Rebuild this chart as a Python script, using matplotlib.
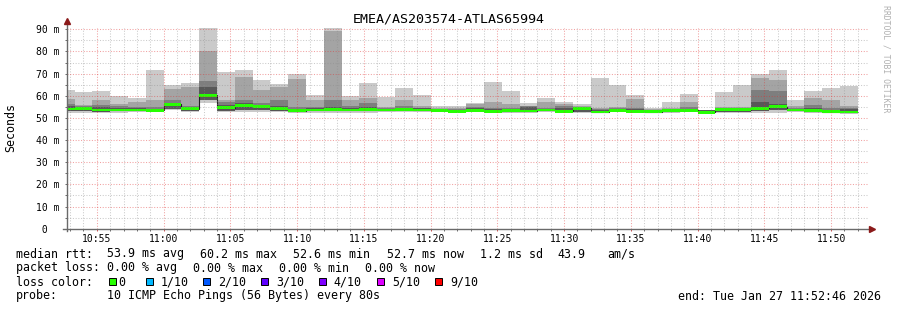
import numpy as np
import matplotlib
matplotlib.use("Agg")
import matplotlib.pyplot as plt
from matplotlib.patches import Rectangle

# ---------------- data ----------------
title = "EMEA/AS203574-ATLAS65994"
window_start = "10:52:46"
window_end = "11:52:46"
first_step_start = "10:52:00"
step_seconds = 80

# per 80 s step, sorted ping quantiles (ms)
ping_max = [62.5, 61.5, 62.0, 59.8, 58.9, 71.5, 65.0, 65.6, 90.8, 70.6,
            71.5, 67.0, 65.2, 69.8, 60.2, 90.8, 59.8, 65.6, 59.4, 63.5,
            60.2, 55.6, 55.5, 56.7, 66.2, 62.1, 56.7, 58.9, 57.0, 56.5,
            68.0, 64.8, 60.2, 54.4, 57.0, 60.6, 53.8, 61.5, 64.7, 70.0,
            71.5, 58.3, 62.0, 63.3, 64.2]
ping_p9 = [58.5, 56.0, 57.9, 56.2, 57.0, 58.3, 62.9, 63.8, 80.2, 58.0,
           68.5, 62.4, 63.8, 67.7, 57.9, 89.4, 58.3, 59.1, 54.8, 58.3,
           55.2, 54.5, 54.6, 56.2, 57.1, 56.2, 55.3, 57.4, 56.4, 55.4,
           54.6, 55.0, 58.5, 54.0, 54.3, 57.1, 53.6, 54.8, 55.0, 68.0,
           67.0, 55.2, 58.9, 58.3, 55.6]
ping_p8 = [56.5, 55.6, 55.9, 55.2, 55.0, 55.0, 58.3, 55.5, 66.5, 57.0,
           58.3, 56.7, 57.9, 55.0, 55.0, 57.9, 55.2, 56.8, 54.4, 55.6,
           54.6, 54.2, 54.0, 55.1, 54.6, 54.4, 55.3, 54.6, 55.3, 54.9,
           54.0, 54.5, 54.5, 53.7, 54.1, 54.8, 53.5, 54.4, 54.7, 62.4,
           62.0, 54.4, 55.9, 54.5, 54.5]
ping_p7 = [55.5, 55.0, 55.0, 54.5, 54.3, 54.2, 56.6, 54.8, 63.8, 56.0,
           56.8, 55.6, 55.5, 54.2, 54.3, 55.0, 54.4, 55.0, 54.2, 54.6,
           54.3, 54.0, 53.7, 54.3, 54.0, 54.0, 54.8, 54.1, 54.5, 54.6,
           53.5, 54.1, 54.0, 53.5, 53.9, 54.2, 53.4, 54.1, 54.4, 57.3,
           56.4, 54.1, 54.5, 53.8, 54.0]
median_rtt = [54.0, 54.2, 53.6, 53.6, 53.6, 53.5, 56.1, 54.2, 60.2, 54.7,
              55.5, 55.0, 54.1, 53.2, 53.6, 53.8, 53.6, 53.8, 53.6, 53.9,
              53.6, 53.5, 53.0, 53.5, 53.0, 53.3, 53.1, 53.6, 53.0, 54.4,
              52.7, 53.5, 53.0, 52.8, 53.2, 53.5, 52.6, 53.8, 53.8, 54.3,
              55.0, 53.6, 53.2, 52.8, 52.7]
ping_low = [53.0, 53.0, 52.8, 52.9, 53.0, 52.9, 54.1, 53.0, 58.0, 53.2,
            53.5, 53.5, 53.2, 52.5, 52.9, 53.0, 52.9, 53.0, 53.0, 53.1,
            53.0, 53.0, 52.5, 52.9, 52.4, 52.8, 52.7, 53.0, 52.4, 52.8,
            52.3, 53.0, 52.5, 52.3, 52.7, 53.0, 52.2, 52.7, 52.8, 53.0,
            53.5, 53.0, 52.7, 52.3, 52.2]
ping_min = [52.3, 52.3, 52.3, 52.4, 52.6, 52.5, 53.4, 52.5, 56.8, 52.6,
            52.5, 52.8, 52.7, 52.0, 52.3, 52.4, 52.4, 52.4, 52.5, 52.6,
            52.5, 52.6, 52.2, 52.5, 52.0, 52.4, 52.3, 52.6, 52.0, 52.3,
            52.0, 52.6, 52.1, 52.0, 52.3, 52.5, 51.9, 52.2, 52.3, 52.2,
            52.4, 52.6, 52.3, 52.0, 51.9]

x_tick_labels = ["10:55", "11:00", "11:05", "11:10", "11:15", "11:20",
                 "11:25", "11:30", "11:35", "11:40", "11:45", "11:50"]
y_ticks = [0, 10, 20, 30, 40, 50, 60, 70, 80, 90]
y_tick_labels = [" 0  ", "10 m", "20 m", "30 m", "40 m", "50 m",
                 "60 m", "70 m", "80 m", "90 m"]

loss_labels = ["0", "1/10", "2/10", "3/10", "4/10", "5/10", "9/10"]
loss_colors = ["#26ff00", "#00b8ff", "#0059ff", "#5e00ff", "#7e00ff",
               "#dd00ff", "#ff0000"]

stats_line1 = ["median rtt:", "53.9 ms avg", "60.2 ms max", "52.6 ms min",
               "52.7 ms now", "1.2 ms sd", "43.9", "am/s"]
stats_line2 = ["packet loss:", "0.00 % avg", "0.00 % max", "0.00 % min",
               "0.00 % now"]
probe_text = ["probe:", "10 ICMP Echo Pings (56 Bytes) every 80s"]
end_text = "end: Tue Jan 27 11:52:46 2026"
watermark = "RRDTOOL / TOBI OETIKER"

# ---------------- helpers ----------------
def secs(hms):
    h, m, s = (hms.split(":") + ["0"])[:3]
    return int(h) * 3600 + int(m) * 60 + int(s)

W, H = 897, 310
MONO = "DejaVu Sans Mono"
t0 = secs(window_start)
t1 = secs(window_end)
n = len(median_rtt)
edges = secs(first_step_start) - t0 + step_seconds * np.arange(n + 1)

fig = plt.figure(figsize=(W / 100, H / 100), dpi=100)
fig.patch.set_facecolor("white")
ax_l, ax_r, ax_b, ax_t = 67, 868, 228.7, 28.0
ax = fig.add_axes([ax_l / W, 1 - ax_b / H, (ax_r - ax_l) / W, (ax_b - ax_t) / H])
ax.set_facecolor("white")
ymax = 90 + (90 / (ax_b - 29.3)) * (29.3 - ax_t)
ax.set_xlim(0, t1 - t0)
ax.set_ylim(0, ymax)

mx = np.array(ping_max); p9 = np.array(ping_p9); p8 = np.array(ping_p8)
p7 = np.array(ping_p7); med = np.array(median_rtt)
lo = np.array(ping_low); mn = np.array(ping_min)

# smoke layers (outer lightest)
ax.stairs(mx, edges, baseline=mn, fill=True, color="#cacaca", lw=0, zorder=1)
ax.stairs(p9, edges, baseline=lo, fill=True, color="#a4a4a4", lw=0, zorder=1.1)
ax.stairs(p8, edges, baseline=lo, fill=True, color="#7e7e7e", lw=0, zorder=1.2)
ax.stairs(p7, edges, baseline=lo, fill=True, color="#585858", lw=0, zorder=1.3)
# median line + loss colour band
ax.stairs(med, edges, baseline=None, color="#202020", lw=0.8, zorder=1.4)
band = 0.62
ax.stairs(med + band, edges, baseline=med - band, fill=True,
          color=loss_colors[0], lw=0, zorder=1.5)

# grid
ax.set_axisbelow(False)
xt = [secs(s) - t0 for s in x_tick_labels]
xminor = np.arange(secs("10:53:00") - t0, t1 - t0, 60)
ax.set_xticks(xt, x_tick_labels)
ax.set_xticks(xminor, minor=True)
ax.set_yticks(y_ticks, y_tick_labels)
ax.set_yticks(np.arange(5, 91, 10), minor=True)
dash = (0, (1, 1.6))
ax.grid(True, which="minor", color="#8c8c8c", alpha=0.45, lw=0.75, ls=dash, zorder=3)
ax.grid(True, which="major", color="#e03030", alpha=0.45, lw=0.75, ls=dash, zorder=3)

for sp in ["top", "right", "left", "bottom"]:
    ax.spines[sp].set_visible(False)
axis_col = "#6a6a6a"
# axis lines with arrows
ax.plot([-0.005, 1.004], [0, 0], transform=ax.transAxes, color=axis_col,
        lw=1, clip_on=False, zorder=5)
ax.plot([0, 0], [-0.012, 1.03], transform=ax.transAxes, color=axis_col,
        lw=1, clip_on=False, zorder=5)
ax.plot([1.0055], [0], transform=ax.transAxes, marker=">", ms=4,
        color="#8b1a1a", clip_on=False, zorder=6)
ax.plot([0], [1.035], transform=ax.transAxes, marker="^", ms=4,
        color="#8b1a1a", clip_on=False, zorder=6)

ax.tick_params(axis="both", which="both", direction="out", length=1.5,
               width=0.7, colors=axis_col)
ax.tick_params(axis="x", which="major", colors="#d05050", labelcolor="black",
               pad=2.0, labelsize=7)
ax.tick_params(axis="y", which="major", labelcolor="black", pad=3.6, labelsize=7)
for lab in ax.get_xticklabels() + ax.get_yticklabels():
    lab.set_family(MONO)

# title & labels
fig.text(449 / W, 1 - 19 / H, title, ha="center", va="center",
         family=MONO, size=9.6)
fig.text(11 / W, 1 - 127 / H, "Seconds", rotation=90, ha="center",
         va="center", family=MONO, size=8.4)
fig.text(886 / W, 1 - 5 / H, watermark, rotation=270, ha="center",
         va="top", family=MONO, size=5.9, color="#b0b0b0")

def put(x, y, s, **kw):
    fig.text(x / W, 1 - y / H, s, ha="left", va="center", family=MONO,
             size=8.4, **kw)

for x, s in zip([16, 107, 200, 293, 387, 480, 557, 607], stats_line1):
    put(x, 254, s)
for x, s in zip([16, 107, 193, 279, 365], stats_line2):
    put(x, 268, s)
put(16, 282, "loss color:")
box_x = [109, 146, 203, 261, 319, 377, 435]
lab_x = [118, 161, 218, 276, 333, 392, 450]
for bx, lx, lab, col in zip(box_x, lab_x, loss_labels, loss_colors):
    fig.add_artist(Rectangle((bx / W, 1 - 284.5 / H), 7 / W, 7 / H,
                             transform=fig.transFigure, facecolor=col,
                             edgecolor="black", lw=0.7))
    put(lx, 282, lab)
put(16, 296, probe_text[0])
put(107, 296, probe_text[1])
put(678, 296, end_text)

fig.savefig("out.png", dpi=100, facecolor="white")
